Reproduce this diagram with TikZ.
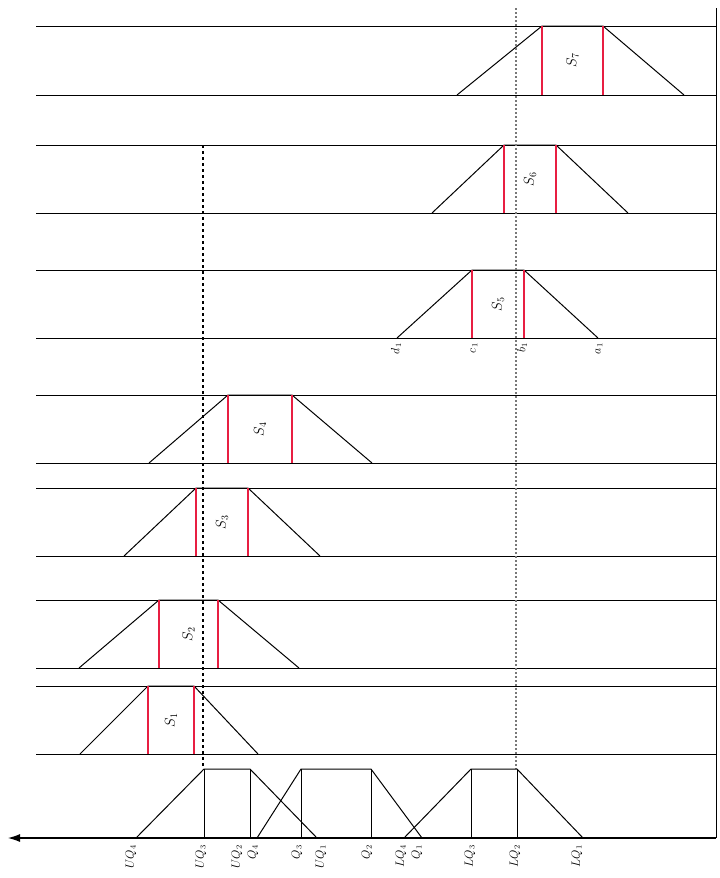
\documentclass[tikz,border=0pt]{standalone}
\usetikzlibrary{arrows.meta}
\definecolor{redline}{RGB}{232,30,66}
\definecolor{dotgray}{RGB}{120,120,120}
\begin{document}
\begin{tikzpicture}[x=1pt,y=-1pt,
  rail/.style={black, line width=1pt},
  trap/.style={black, line width=1pt},
  redbar/.style={draw=redline, line width=1.8pt},
  lab/.style={rotate=90, inner sep=1pt, font=\large},
  slab/.style={rotate=90, inner sep=1pt, font=\Large},
  vdash/.style={black, dashed, line width=1.4pt},
  vdot/.style={dotgray, dash pattern=on 2pt off 2pt, line width=1.4pt}]
\useasboundingbox (0,0) rectangle (720,878);

% panels: top / bottom / foot-left / top-left / top-right / foot-right / index
\foreach \t/\b/\fl/\tl/\tr/\fr/\s in {
  26/95/457/542/603/684/7,
  145/213/432/504/556/628/6,
  270/338/397/472/524/598/5,
  395/463/149/228/292/372/4,
  488/556/124/196/248/320/3,
  600/668/79/159/218/299/2,
  686/754/80/148/194/258/1}
{
  \draw[rail] (36,\t) -- (716,\t);
  \draw[rail] (36,\b) -- (716,\b);
  \draw[trap] (\fl,\b) -- (\tl,\t) -- (\tr,\t) -- (\fr,\b);
  \draw[redbar] (\tl,\t) -- (\tl,\b);
  \draw[redbar] (\tr,\t) -- (\tr,\b);
  \node[slab] (S\s) at ({(\tl+\tr)/2}, {(\t+\b)/2}) {$S_{\s}$};
}

% labels under panel 5
\node[lab, anchor=east] (d1) at (396,342) {$d_1$};
\node[lab, anchor=east] (c1) at (474,342) {$c_1$};
\node[lab, anchor=east] (b1) at (522,342) {$b_1$};
\node[lab, anchor=east] (a1) at (599,342) {$a_1$};

% vertical guide lines
\draw[vdash] (203,145) -- (203,769);
\draw[vdot] (516,8) -- (516,769);

% right border
\draw[rail] (716,8) -- (716,838);

% bottom trapezoids
\draw[trap] (136,838) -- (204,769) -- (250,769) -- (317,838);
\draw[trap] (204,769) -- (204,838);
\draw[trap] (250,769) -- (250,838);
\draw[trap] (257,838) -- (301,769) -- (371,769) -- (422,838);
\draw[trap] (301,769) -- (301,838);
\draw[trap] (371,769) -- (371,838);
\draw[trap] (404,838) -- (471,769) -- (517,769) -- (583,838);
\draw[trap] (471,769) -- (471,838);
\draw[trap] (517,769) -- (517,838);

% axis
\coordinate (axR) at (716,838);
\coordinate (axL) at (8,838);
\draw[line width=1.1pt, -{Latex[length=12pt,width=8pt]}] (axR) -- (axL);

% axis labels
\foreach \x/\l/\n in {
  131/UQ_4/u4, 201/UQ_3/u3, 237/UQ_2/u2, 253/Q_4/q4,
  297/Q_3/q3, 321/UQ_1/u1, 367/Q_2/q2, 401/LQ_4/l4,
  417/Q_1/q1, 470/LQ_3/l3, 515/LQ_2/l2, 577/LQ_1/l1}
{
  \node[lab, anchor=east] (\n) at (\x,844) {$\l$};
}
\end{tikzpicture}
\end{document}
